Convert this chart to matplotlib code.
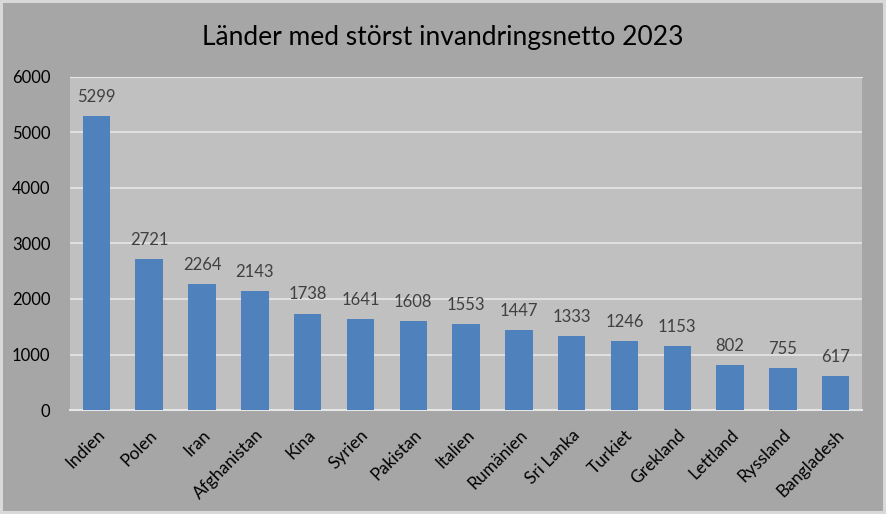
import matplotlib
matplotlib.use("Agg")
import matplotlib.pyplot as plt
import numpy as np

countries = ["Indien", "Polen", "Iran", "Afghanistan", "Kina", "Syrien", "Pakistan",
             "Italien", "Rumänien", "Sri Lanka", "Turkiet", "Grekland", "Lettland",
             "Ryssland", "Bangladesh"]
values = [5299, 2721, 2264, 2143, 1738, 1641, 1608, 1553, 1447, 1333, 1246, 1153, 802, 755, 617]
title = "Länder med störst invandringsnetto 2023"

plt.rcParams['font.family'] = ['Lato', 'DejaVu Sans']

fig = plt.figure(figsize=(8.86, 5.14), dpi=100)
fig.patch.set_facecolor('#a6a6a6')
fig.patch.set_edgecolor('#d9d9d9')
fig.patch.set_linewidth(3)

ax = fig.add_axes([0.079, 0.2023, 0.894, 0.648])
ax.set_facecolor('#c0c0c0')
x = np.arange(len(countries))
bars = ax.bar(x, values, width=0.52, color='#4f81bd', zorder=3)
ax.set_xlim(-0.5, len(countries) - 0.5)
ax.set_ylim(0, 6000)
ax.set_yticks(range(0, 6001, 1000))
ax.yaxis.grid(True, color='#e6e6e6', linewidth=1.2, zorder=0)
ax.set_axisbelow(True)
for s in ['left', 'right']:
    ax.spines[s].set_visible(False)
ax.spines['top'].set_visible(True)
ax.spines['top'].set_color('#e6e6e6')
ax.spines['bottom'].set_color('#e6e6e6')
ax.spines['bottom'].set_linewidth(1.5)
ax.tick_params(axis='both', length=0, colors='black')
ax.tick_params(axis='y', pad=14, labelsize=12)
ax.set_xticks(x)
ax.set_xticklabels(countries, rotation=45, ha='right', rotation_mode='anchor', fontsize=12.5)
ax.tick_params(axis='x', pad=12)

for xi, v in zip(x, values):
    ax.annotate(str(v), (xi, v), xytext=(0, 8), textcoords='offset points',
                ha='center', va='bottom', fontsize=12, color='#404040')

fig.text(0.5, 0.928, title, ha='center', va='center', fontsize=19, color='black')

fig.savefig("out.png", dpi=100, facecolor=fig.get_facecolor(), edgecolor=fig.get_edgecolor())
